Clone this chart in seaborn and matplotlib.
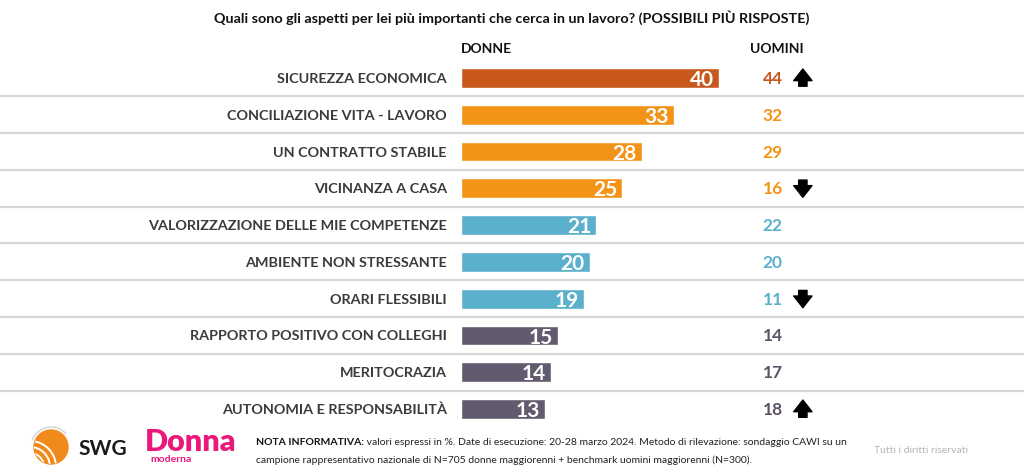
import numpy as np
import pandas as pd
import seaborn as sns
import matplotlib.pyplot as plt
from matplotlib.patches import Circle, Arc

# Dati
categorie = ['SICUREZZA ECONOMICA', 'CONCILIAZIONE VITA - LAVORO', 'UN CONTRATTO STABILE',
             'VICINANZA A CASA', 'VALORIZZAZIONE DELLE MIE COMPETENZE', 'AMBIENTE NON STRESSANTE',
             'ORARI FLESSIBILI', 'RAPPORTO POSITIVO CON COLLEGHI', 'MERITOCRAZIA',
             'AUTONOMIA E RESPONSABILITÀ']
donne = [40, 33, 28, 25, 21, 20, 19, 15, 14, 13]
uomini = [44, 32, 29, 16, 22, 20, 11, 14, 17, 18]
tendenza = ['up', '', '', 'down', '', '', 'down', '', '', 'up']

colori_barre = ['#C8581B', '#F39419', '#F39419', '#F39419', '#5BB0CC', '#5BB0CC', '#5BB0CC',
                '#625A6E', '#625A6E', '#625A6E']
colori_uomini = ['#C8581B', '#F39419', '#F39419', '#F39419', '#5BB0CC', '#5BB0CC', '#5BB0CC',
                 '#5C5366', '#5C5366', '#5C5366']

sns.set_theme(style='white')
plt.rcParams['font.family'] = ['Lato', 'DejaVu Sans']

df = pd.DataFrame({'cat': categorie, 'donne': donne})

fig = plt.figure(figsize=(10.24, 4.77), dpi=100)
ax = fig.add_axes([0, 0, 1, 1])

sns.barplot(data=df, x='donne', y='cat', hue='cat', palette=colori_barre, legend=False,
            width=0.54, saturation=1, ax=ax)

# scala: 0 a 461px, 6.45 px per punto
ax.set_xlim(-461 / 6.45, (1024 - 461) / 6.45)
ax.set_ylim(9 + 67 / 36.8, -79 / 36.8)
ax.axis('off')

# linee separatrici
for i in range(len(categorie) - 1):
    ax.axhline(i + 0.5, color='#d6d6d6', lw=1.6, zorder=0)

for i, (c, d, u, t) in enumerate(zip(categorie, donne, uomini, tendenza)):
    ax.text(-2.2, i, c, ha='right', va='center', fontsize=10.4, fontweight='bold', color='#3b3b3b')
    ax.text(d - 0.8, i + 0.03, str(d), ha='right', va='center', fontsize=15, fontweight='bold',
            color='white')
    ax.text(48.3, i, str(u), ha='center', va='center', fontsize=12.5, fontweight='bold',
            color=colori_uomini[i])
    if t == 'up':
        ax.annotate('', xy=(53.0, i - 0.32), xytext=(53.0, i + 0.3),
                    arrowprops=dict(arrowstyle='simple,head_width=1.1,head_length=0.7,tail_width=0.5',
                                    color='black'))
    elif t == 'down':
        ax.annotate('', xy=(53.0, i + 0.32), xytext=(53.0, i - 0.3),
                    arrowprops=dict(arrowstyle='simple,head_width=1.1,head_length=0.7,tail_width=0.5',
                                    color='black'))

# intestazioni
fig.text(512 / 1024, 1 - 18 / 477, 'Quali sono gli aspetti per lei più importanti che cerca in un lavoro? (POSSIBILI PIÙ RISPOSTE)',
         ha='center', va='center', fontsize=10.4, fontweight='bold', color='#111111')
fig.text(461 / 1024, 1 - 49 / 477, 'DONNE', ha='left', va='center', fontsize=10,
         fontweight='bold', color='#111111')
fig.text(777 / 1024, 1 - 49 / 477, 'UOMINI', ha='center', va='center', fontsize=10,
         fontweight='bold', color='#111111')

# nota
t1 = fig.text(256 / 1024, 1 - 443 / 477, 'NOTA INFORMATIVA:', ha='left', va='center',
              fontsize=7.5, fontweight='bold', color='#111111')
ax.annotate(' valori espressi in %. Date di esecuzione: 20-28 marzo 2024. Metodo di rilevazione: sondaggio CAWI su un',
            xy=(1, 0.5), xycoords=t1, ha='left', va='center', fontsize=7.5, color='#222222')
fig.text(256 / 1024, 1 - 460 / 477,
         'campione rappresentativo nazionale di N=705 donne maggiorenni + benchmark uomini maggiorenni (N=300).',
         ha='left', va='center', fontsize=7.5, color='#222222')
fig.text(921 / 1024, 1 - 451 / 477, 'Tutti i diritti riservati', ha='center', va='center',
         fontsize=7.5, color='#b5b5b5')

# loghi
lax = fig.add_axes([0, 0, 1, 1], facecolor='none')
lax.set_xlim(0, 1024)
lax.set_ylim(477, 0)
lax.axis('off')
globo = Circle((51, 448), 17, color='#F08A1C')
lax.add_patch(globo)
for r in [8, 14, 20, 26]:
    a = Arc((30, 468), 2 * r, 2 * r, theta1=0, theta2=360, color='white', lw=1.4)
    lax.add_patch(a)
    a.set_clip_path(globo)
lax.add_patch(Arc((51, 448), 40, 40, theta1=200, theta2=320, color='#d9d9d9', lw=1.2))
lax.text(78, 449, 'SWG', ha='left', va='center', fontsize=15, fontweight='bold', color='#1a1a1a')
lax.text(191, 442, 'Donna', ha='center', va='center', fontsize=22, fontweight='heavy',
         color='#E8197B', family=['Liberation Sans Narrow', 'Lato', 'DejaVu Sans'])
lax.text(150, 460, 'moderna', ha='left', va='center', fontsize=7.5, fontweight='bold',
         color='#E8197B')

fig.savefig('out.png', dpi=100, facecolor='white')
